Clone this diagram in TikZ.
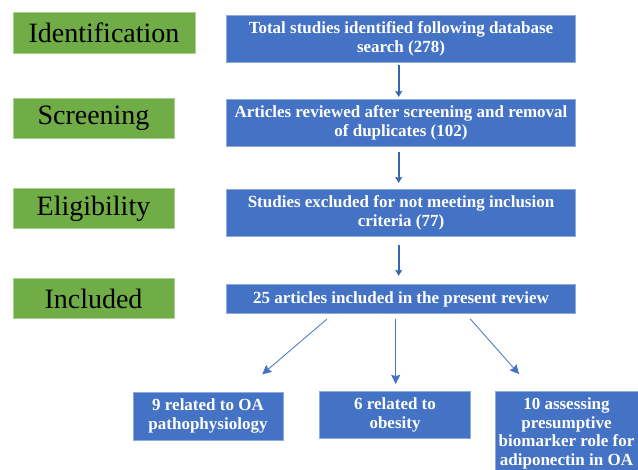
\documentclass[tikz,border=0pt]{standalone}
\usepackage{fontspec}
\setmainfont{Liberation Serif}
\usetikzlibrary{arrows.meta}
\definecolor{pgreen}{HTML}{70AD47}
\definecolor{pgreenb}{HTML}{A9D18E}
\definecolor{pblue}{HTML}{4472C4}
\definecolor{pblueb}{HTML}{8FAADC}
\definecolor{parrow}{HTML}{3A64B0}
\tikzset{
  stagebox/.style={fill=pgreen, draw=pgreenb, line width=0.8pt, inner sep=0pt,
    font=\fontsize{28}{32}\selectfont, text=black},
  flowbox/.style={fill=pblue, draw=pblueb, line width=0.8pt, inner sep=0pt,
    text=white, font=\bfseries\fontsize{17}{19}\selectfont, align=center},
  subbox/.style={flowbox, font=\bfseries\fontsize{17}{19}\selectfont},
  toparrow/.style={draw=parrow, line width=2pt, -{Stealth[length=6pt,width=7pt,inset=1pt]}},
  thinarrow/.style={draw=pblue, line width=0.8pt, -{Stealth[length=9pt,width=9pt,inset=1pt]}}
}
\begin{document}
\begin{tikzpicture}[x=1pt,y=-1pt]
\clip (0,0) rectangle (638,470);
\fill[white] (0,0) rectangle (638,470);
% stage labels
\node[stagebox, minimum width=182pt, minimum height=40.3pt] (sid) at (104,32.8) {Identification};
\node[stagebox, minimum width=161pt, minimum height=40pt] (ssc) at (93.5,118) {Screening};
\node[stagebox, minimum width=161pt, minimum height=40pt] (sel) at (93.5,208.7) {Eligibility};
\node[stagebox, minimum width=161pt, minimum height=40pt] (sin) at (93.5,298.7) {Included};
% flow boxes
\node[flowbox, minimum width=349.4pt, minimum height=47pt] (b1) at (401,38.8)
  {Total studies identified following database\\search (278)};
\node[flowbox, minimum width=349.4pt, minimum height=46.7pt] (b2) at (401,122.7)
  {Articles reviewed after screening and removal\\of duplicates (102)};
\node[flowbox, minimum width=349.4pt, minimum height=47.4pt] (b3) at (401,213)
  {Studies excluded for not meeting inclusion\\criteria (77)};
\node[flowbox, minimum width=349.4pt, minimum height=28.6pt] (b4) at (401,299)
  {25 articles included in the present review};
% sub boxes
\node[subbox, minimum width=150pt, minimum height=47.7pt] (c1) at (208,416.2)
  {9 related to OA\\pathophysiology};
\node[subbox, minimum width=150.6pt, minimum height=47.3pt] (c2) at (395,414.7)
  {6 related to\\obesity};
\node[subbox, minimum width=148pt, minimum height=90pt, anchor=north west] (c3) at (495,391) {};
\node[font=\bfseries\fontsize{17}{18.5}\selectfont, text=white, align=center, anchor=north, inner sep=0pt]
  (c3t) at (566.5,398) {10 assessing\\presumptive\\biomarker role for\\adiponectin in OA};
% top arrows
\draw[toparrow, shorten <=2pt, shorten >=2pt] ([xshift=-2.3pt]b1.south) -- ([xshift=-2.3pt]b2.north);
\draw[toparrow, shorten <=6pt, shorten >=6pt] ([xshift=-2.3pt]b2.south) -- ([xshift=-2.3pt]b3.north);
\draw[toparrow, shorten <=7.5pt, shorten >=8.5pt] ([xshift=-2.3pt]b3.south) -- ([xshift=-2.3pt]b4.north);
% fan-out arrows
\coordinate (l0) at (326.7,319.3);
\coordinate (l1) at (262.3,374.3);
\coordinate (m0) at (395.7,319);
\coordinate (m1) at (395.7,384);
\coordinate (r0) at (470.3,319);
\coordinate (r1) at (519,374);
\draw[thinarrow] (l0) -- (l1);
\draw[thinarrow] (m0) -- (m1);
\draw[thinarrow] (r0) -- (r1);
\end{tikzpicture}
\end{document}
